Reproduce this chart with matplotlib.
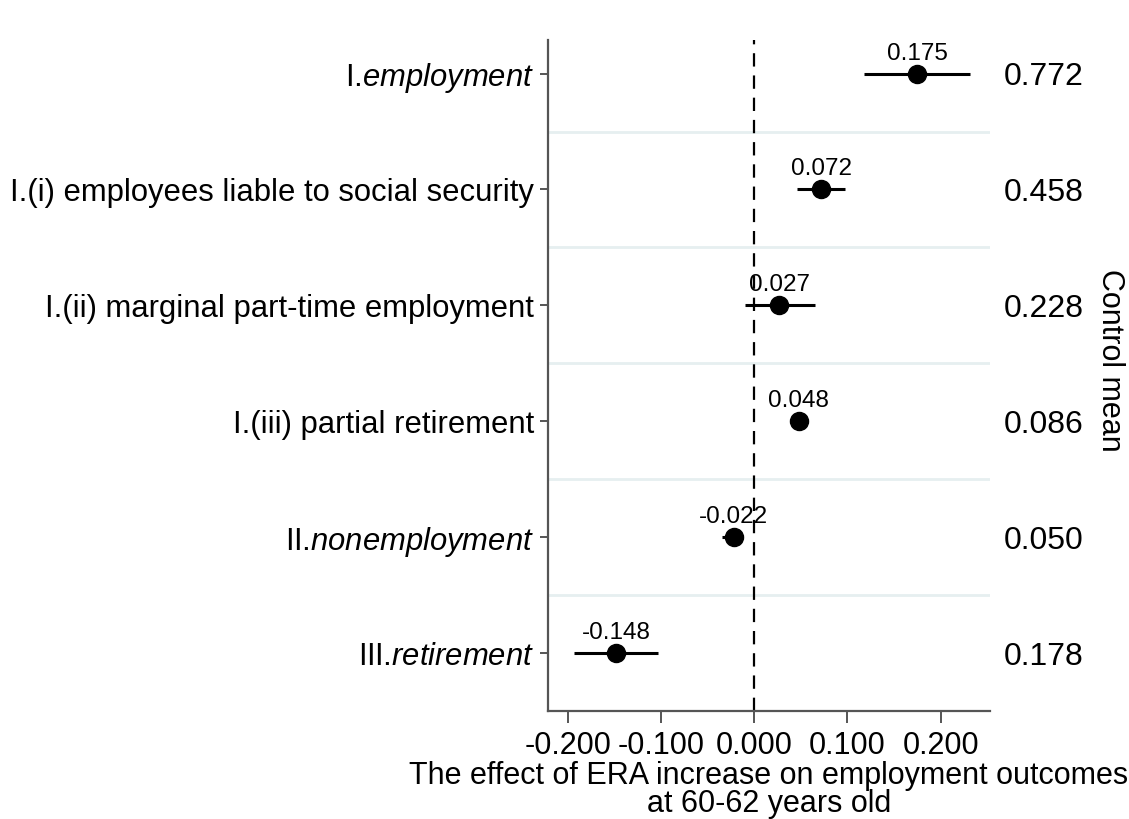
import matplotlib.pyplot as plt

plt.rcParams['font.family'] = ['Liberation Sans', 'DejaVu Sans']
plt.rcParams['mathtext.fontset'] = 'custom'
plt.rcParams['mathtext.rm'] = 'Liberation Sans'
plt.rcParams['mathtext.it'] = 'Liberation Sans:italic'

# outcomes, top to bottom
outcomes = [
    r"I.$\it{employment}$",
    "I.(i) employees liable to social security",
    "I.(ii) marginal part-time employment",
    "I.(iii) partial retirement",
    r"II.$\it{nonemployment}$",
    r"III.$\it{retirement}$",
]
estimates = [0.175, 0.072, 0.027, 0.048, -0.022, -0.148]
ci_low = [0.118, 0.046, -0.010, 0.040, -0.034, -0.193]
ci_high = [0.231, 0.098, 0.065, 0.056, -0.012, -0.103]
control_means = ["0.772", "0.458", "0.228", "0.086", "0.050", "0.178"]
xticks = [-0.2, -0.1, 0.0, 0.1, 0.2]

n = len(outcomes)
ypos = [n - i for i in range(n)]

fig = plt.figure(figsize=(11.29, 8.19), dpi=100)
ax = fig.add_axes([0.4854, 0.1319, 0.8769 - 0.4854, 0.9512 - 0.1319])

# light separators between rows
for k in range(1, n):
    ax.axhline(k + 0.5, color="#e6eff0", lw=2, zorder=0)

ax.axvline(0, color="black", lw=1.6, ls=(0, (6, 4)), zorder=1)

for y, est, lo, hi in zip(ypos, estimates, ci_low, ci_high):
    ax.plot([lo, hi], [y, y], color="black", lw=2.2, solid_capstyle="butt", zorder=2)
    ax.plot(est, y, "o", color="black", ms=13, zorder=3)
    ax.annotate(f"{est:.3f}", (est, y), xytext=(0, 9), textcoords="offset pixels",
                ha="center", va="bottom", fontsize=17.5)

ax.set_xlim(-0.221, 0.253)
ax.set_ylim(0.5, n + 0.29)
ax.set_yticks(ypos)
ax.set_yticklabels(outcomes, fontsize=22.3)
ax.set_xticks(xticks)
ax.set_xticklabels([f"{t:.3f}" for t in xticks], fontsize=22)
ax.set_xlabel("The effect of ERA increase on employment outcomes\nat 60-62 years old",
              fontsize=22, labelpad=0, linespacing=0.92)

for side in ["top", "right"]:
    ax.spines[side].set_visible(False)
for side in ["left", "bottom"]:
    ax.spines[side].set_color("#555555")
    ax.spines[side].set_linewidth(1.6)
ax.tick_params(axis="y", length=6, width=1.4, color="#555555", pad=4)
ax.tick_params(axis="x", length=8.5, width=1.4, color="#555555", pad=6)

# control means on the right side
ax2 = ax.twinx()
ax2.set_ylim(ax.get_ylim())
ax2.set_yticks(ypos)
ax2.set_yticklabels(control_means, fontsize=23)
ax2.tick_params(axis="y", length=0, pad=10)
for side in ["top", "right", "left", "bottom"]:
    ax2.spines[side].set_visible(False)
ax2.set_ylabel("Control mean", fontsize=22, rotation=270, va="center", ha="center")
ax2.yaxis.set_label_coords(1.272, 0.522)

fig.savefig("out.png", dpi=100)
